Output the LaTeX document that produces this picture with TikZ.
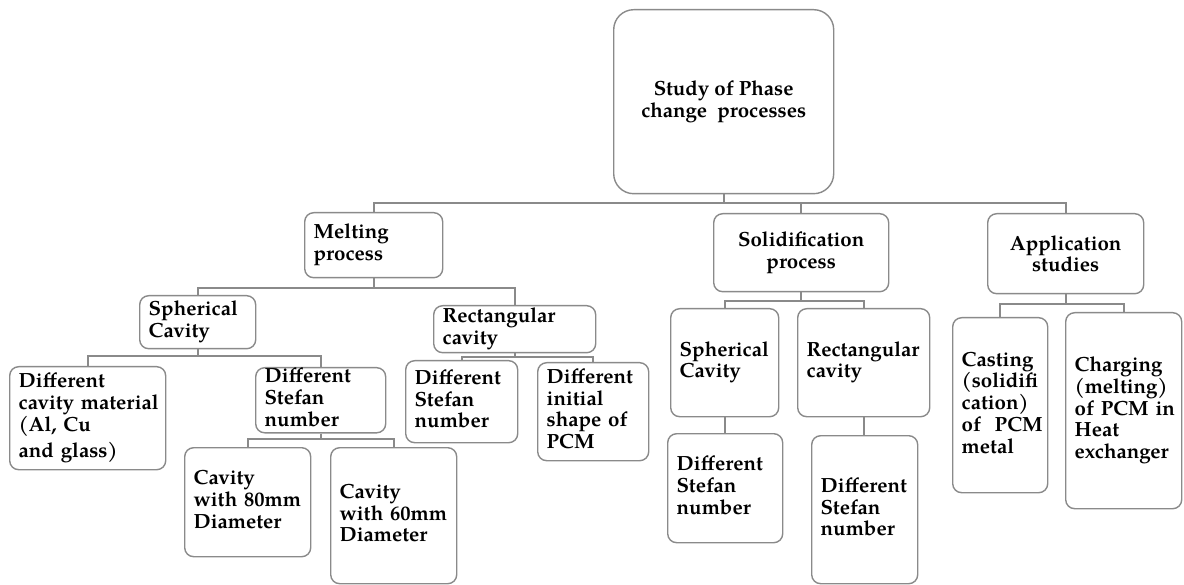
\documentclass[tikz,border=0pt]{standalone}
\usepackage{fontspec}
\setmainfont{texgyrepagella}[Extension=.otf, UprightFont=*-regular, BoldFont=*-bold, ItalicFont=*-italic, BoldItalicFont=*-bolditalic]
\newcommand\boxlines[1]{\begin{tabular}{@{}l@{}}#1\end{tabular}}
\definecolor{edgegray}{HTML}{8A8A8A}
\tikzset{
  txt/.style={font=\fontsize{20.5}{21.7}\selectfont\bfseries},
  boxl/.style={txt, draw=edgegray, line width=1.4pt, rounded corners=9pt, anchor=north west,
    inner xsep=9pt, inner ysep=0pt, align=left},
  boxc/.style={txt, draw=edgegray, line width=1.4pt, rounded corners=9pt, anchor=north west,
    inner xsep=4pt, inner ysep=0pt, align=center},
  conn/.style={draw=edgegray, line width=2.2pt},
}
\begin{document}
\begin{tikzpicture}[x=1pt,y=-1pt]
\useasboundingbox (0,0) rectangle (1184,585);
% level 0
\node[boxc, rounded corners=20pt, minimum width=220pt, minimum height=184pt] (root) at (613,9)
  {Study of Phase\\change\ \ processes};
% level 1
\node[boxl, minimum width=138pt, minimum height=65pt, text width=120pt] (melt) at (304,212)
  {\boxlines{Melting\\process}};
\node[boxc, minimum width=175pt, minimum height=78pt] (solid) at (713,213)
  {Solidification\\process};
\node[boxc, minimum width=156pt, minimum height=80pt] (app) at (987,213)
  {Application\\studies};
% melting children
\node[boxl, minimum width=116pt, minimum height=53pt, text width=98pt] (msph) at (139,295)
  {\boxlines{Spherical\\Cavity}};
\node[boxl, minimum width=162pt, minimum height=47pt, text width=144pt] (mrect) at (433,305)
  {\boxlines{Rectangular\\cavity}};
\node[boxl, minimum width=156pt, minimum height=103pt, text width=138pt] (dcm) at (9,366)
  {\boxlines{Different\\cavity material\\(Al, Cu\\[4pt]and glass)}};
\node[boxl, minimum width=130pt, minimum height=62pt, text width=112pt] (dsnA) at (255,367)
  {\boxlines{Different\\Stefan\\number}};
\node[boxl, minimum width=126pt, minimum height=109pt, text width=108pt] (cav80) at (184,447)
  {\boxlines{Cavity\\with 80mm\\Diameter}};
\node[boxl, minimum width=126pt, minimum height=136pt, text width=108pt] (cav60) at (330,447)
  {\boxlines{Cavity\\with 60mm\\Diameter}};
\node[boxl, minimum width=112pt, minimum height=82pt, text width=94pt] (dsnB) at (405,360)
  {\boxlines{Different\\Stefan\\number}};
\node[boxl, minimum width=111pt, minimum height=98pt, text width=93pt] (dis) at (537,362)
  {\boxlines{Different\\initial\\shape of\\PCM}};
% solidification children
\node[boxl, minimum width=108pt, minimum height=108pt, text width=90pt] (ssph) at (670,308)
  {\boxlines{Spherical\\Cavity}};
\node[boxl, minimum width=132pt, minimum height=108pt, text width=114pt] (srect) at (797,308)
  {\boxlines{Rectangular\\cavity}};
\node[boxl, minimum width=115pt, minimum height=109pt, text width=97pt] (dsnC) at (667,433)
  {\boxlines{Different\\Stefan\\number}};
\node[boxl, minimum width=106pt, minimum height=148pt, text width=88pt] (dsnD) at (811,435)
  {\boxlines{Different\\Stefan\\number}};
% application children
\node[boxl, minimum width=95pt, minimum height=175pt, text width=77pt] (cast) at (952,317)
  {\boxlines{Casting\\(solidifi\\cation)\\of\ \ PCM\\metal}};
\node[boxl, minimum width=116pt, minimum height=196pt, text width=98pt] (charge) at (1065,312)
  {\boxlines{Charging\\(melting)\\of PCM in\\Heat\\exchanger}};
% bus coordinates
\coordinate (bus0) at (0,203);
\coordinate (busM) at (0,288);
\coordinate (busS) at (0,356);
\coordinate (busD) at (0,439);
\coordinate (busR) at (0,357);
\coordinate (busSo) at (0,301);
\coordinate (busA) at (0,304);
% connectors
\foreach \c in {melt,solid,app}
  \draw[conn] (root.south) |- (\c.north |- bus0) -- (\c.north);
\foreach \c in {msph,mrect}
  \draw[conn] (melt.south) |- (\c.north |- busM) -- (\c.north);
\foreach \c in {dcm,dsnA}
  \draw[conn] (msph.south) |- (\c.north |- busS) -- (\c.north);
\foreach \c in {cav80,cav60}
  \draw[conn] (dsnA.south) |- (\c.north |- busD) -- (\c.north);
\foreach \c in {dsnB,dis}
  \draw[conn] (mrect.south) |- (\c.north |- busR) -- (\c.north);
\foreach \c in {ssph,srect}
  \draw[conn] (solid.south) |- (\c.north |- busSo) -- (\c.north);
\draw[conn] (ssph.south) -- (ssph.south |- dsnC.north);
\draw[conn] (srect.south) -- (srect.south |- dsnD.north);
\foreach \c in {cast,charge}
  \draw[conn] (app.south) |- (\c.north |- busA) -- (\c.north);
\end{tikzpicture}
\end{document}
